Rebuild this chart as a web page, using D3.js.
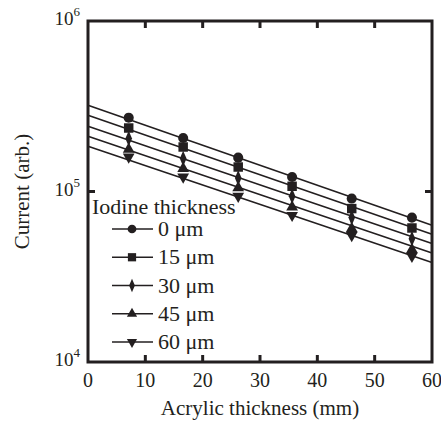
<!DOCTYPE html>
<html>
<head>
<meta charset="utf-8">
<script src="https://cdn.jsdelivr.net/npm/d3@7"></script>
<style>
  * { font-family: "Liberation Serif", serif; }
  body { margin: 0; background: #fff; }
</style>
</head>
<body>
<script>
// data
var acrylic = [7.1, 16.6, 26.2, 35.6, 46.0, 56.5];
var iodine = ["0 \u03bcm", "15 \u03bcm", "30 \u03bcm", "45 \u03bcm", "60 \u03bcm"];
var cur0  = [271000, 206000, 158000, 121600, 90900, 70300];
var cur15 = [235700, 182400, 139200, 107300, 79400, 61100];
var cur30 = [204300, 156000, 120000, 93700, 70300, 52900];
var cur45 = [176800, 136200, 105100, 81100, 60600, 45600];
var cur60 = [159400, 121600, 94000, 72500, 55300, 41700];
// fitted lines, value at 0 mm and at 60 mm
var fitStart = [321000, 280000, 241000, 210800, 184000];
var fitEnd   = [63400, 56100, 49500, 43600, 38300];
var xTicks = [0, 10, 20, 30, 40, 50, 60];
var yTicks = [1e4, 1e5, 1e6];
var symbols = [d3.symbolCircle, d3.symbolSquare, d3.symbolDiamond, d3.symbolTriangle, d3.symbolTriangle];

var series = [cur0, cur15, cur30, cur45, cur60];
var ink = "#231f20";

var W = 441, H = 428;
var margin = {top: 21, right: 9, bottom: 66, left: 88};
var width = W - margin.left - margin.right,
    height = H - margin.top - margin.bottom;

var svg = d3.select("body").append("svg")
    .attr("width", W).attr("height", H);
var g = svg.append("g")
    .attr("transform", "translate(" + margin.left + "," + margin.top + ")");

var x = d3.scaleLinear().domain([0, 60]).range([0, width]);
var y = d3.scaleLog().domain([1e4, 1e6]).range([height, 0]);

function addText(parent, px, py, size, str){
  return parent.append("text")
    .attr("x", px).attr("y", py)
    .attr("font-family", "Liberation Serif")
    .attr("font-size", size)
    .attr("fill", ink)
    .text(str);
}

// fitted lines
series.forEach(function(s, i){
  g.append("line")
    .attr("x1", x(0)).attr("y1", y(fitStart[i]))
    .attr("x2", x(60)).attr("y2", y(fitEnd[i]))
    .attr("stroke", ink).attr("stroke-width", 1.6);
});

// markers
function symPath(i, size){
  return d3.symbol().type(symbols[i]).size(size)();
}
function symTransform(i, px, py){
  var t = "translate(" + px + "," + py + ")";
  if(i === 2) t += " scale(0.8,1.1)";
  if(i === 4) t += " rotate(180)";
  return t;
}
var sizes = [80, 90, 60, 60, 60];
series.forEach(function(s, i){
  g.selectAll(".pt" + i)
    .data(s)
    .enter()
    .append("path")
      .attr("d", symPath(i, sizes[i]))
      .attr("transform", function(d, j){ return symTransform(i, x(acrylic[j]), y(d)); })
      .attr("fill", ink);
});

// inward ticks
xTicks.slice(1, -1).forEach(function(v){
  g.append("line").attr("x1", x(v)).attr("x2", x(v)).attr("y1", height).attr("y2", height - 7)
    .attr("stroke", ink).attr("stroke-width", 3);
  g.append("line").attr("x1", x(v)).attr("x2", x(v)).attr("y1", 0).attr("y2", 7)
    .attr("stroke", ink).attr("stroke-width", 3);
});
[1e5].forEach(function(v){
  g.append("line").attr("x1", 0).attr("x2", 7).attr("y1", y(v)).attr("y2", y(v))
    .attr("stroke", ink).attr("stroke-width", 3);
  g.append("line").attr("x1", width - 7).attr("x2", width).attr("y1", y(v)).attr("y2", y(v))
    .attr("stroke", ink).attr("stroke-width", 3);
});

g.append("rect")
  .attr("width", width).attr("height", height)
  .attr("fill", "none").attr("stroke", ink).attr("stroke-width", 3);

// tick labels
xTicks.forEach(function(v){
  addText(g, x(v), height + 25, 20, v).attr("text-anchor", "middle");
});
yTicks.forEach(function(v){
  var t = addText(g, -8, y(v) + 4, 19, "").attr("text-anchor", "end");
  t.append("tspan").text("10");
  t.append("tspan").attr("dy", -9).attr("font-size", 13).text(Math.round(Math.log10(v)));
});

// axis titles
addText(svg, margin.left + width / 2, 415, 21, "Acrylic thickness (mm)")
  .attr("text-anchor", "middle");
addText(svg, 0, 0, 21, "Current (arb.)")
  .attr("text-anchor", "middle")
  .attr("transform", "translate(29," + (margin.top + y(1e5)) + ") rotate(-90)");

// legend
var legend = svg.append("g");
addText(legend, 92, 214, 22, "Iodine thickness");
var rowY = d3.scaleLinear().domain([0, 4]).range([229, 342]);
iodine.forEach(function(lab, i){
  var yy = rowY(i);
  legend.append("line")
    .attr("x1", 112).attr("x2", 153)
    .attr("y1", yy).attr("y2", yy)
    .attr("stroke", ink).attr("stroke-width", 1.6);
  legend.append("path")
    .attr("d", symPath(i, sizes[i] * 0.75))
    .attr("transform", symTransform(i, 132, yy))
    .attr("fill", ink);
  addText(legend, 158, yy + 7, 22, lab);
});
</script>
</body>
</html>
